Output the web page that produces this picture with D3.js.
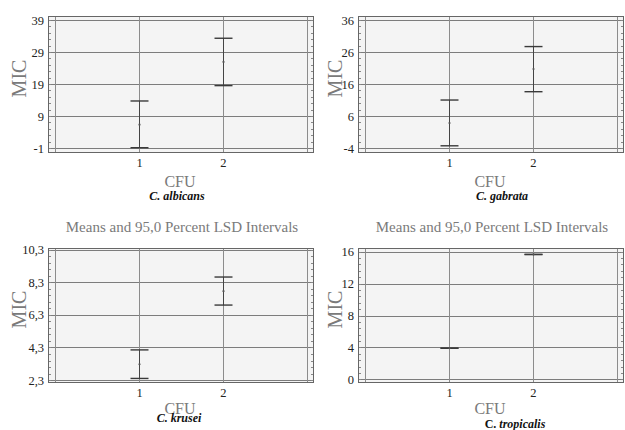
<!DOCTYPE html>
<html>
<head>
<meta charset="utf-8">
<script src="https://cdn.jsdelivr.net/npm/d3@7"></script>
<style>
  body { margin: 0; background: #fff; }
  svg { display: block; }
  svg text { font-family: "Liberation Serif", "Times New Roman", Times, "DejaVu Serif", serif !important; }
</style>
</head>
<body>
<svg id="chart" width="625" height="430"></svg>
<script>
// data
const species = ['C. albicans', 'C. gabrata', 'C. krusei', 'C. tropicalis']
const groups = [1, 2]
const means = [[6.3, 25.9], [3.8, 20.7], [3.27, 7.75], [3.9, 15.65]]
const lower = [[-0.9, 18.5], [-3.3, 13.6], [2.4, 6.9], [3.9, 15.65]]
const upper = [[13.7, 33.3], [11.0, 27.7], [4.15, 8.62], [3.9, 15.65]]
const yTicks = [
  [-1, 9, 19, 29, 39],
  [-4, 6, 16, 26, 36],
  [2.3, 4.3, 6.3, 8.3, 10.3],
  [0, 4, 8, 12, 16]
]
const yDomains = [[-2.55, 40.25], [-5.55, 37.25], [2.12, 10.4], [-0.46, 16.46]]
const title = 'Means and 95,0 Percent LSD Intervals'

const svg = d3.select('#chart')

// panel boxes
const cols = [[48, 314], [358, 624]]
const rows = [[16, 153], [248, 383]]
const micOffset = [29, 23]

const fmt = d => String(d).replace('.', ',')

species.forEach((name, i) => {
  const [x0, x1] = cols[i % 2]
  const [y0, y1] = rows[Math.floor(i / 2)]
  const cx = (x0 + x1) / 2

  const x = d3.scaleLinear().domain([-0.085, 3.085]).range([x0, x1])
  const y = d3.scaleLinear().domain(yDomains[i]).range([y1, y0])

  const g = svg.append('g')

  g.append('rect')
    .attr('x', x0).attr('y', y0)
    .attr('width', x1 - x0).attr('height', y1 - y0)
    .attr('fill', '#f4f4f4')

  // grid
  g.selectAll('.hgrid').data(yTicks[i]).enter().append('line')
    .attr('x1', x0).attr('x2', x1)
    .attr('y1', d => Math.round(y(d)) + 0.5).attr('y2', d => Math.round(y(d)) + 0.5)
    .attr('stroke', '#7c7c7c')
  g.selectAll('.vgrid').data([0, 1, 2, 3]).enter().append('line')
    .attr('y1', y0).attr('y2', y1)
    .attr('x1', d => Math.round(x(d)) + 0.5).attr('x2', d => Math.round(x(d)) + 0.5)
    .attr('stroke', '#8c8c8c')

  // minor ticks on left/right edges
  const step = (yTicks[i][1] - yTicks[i][0]) / 5
  const minor = d3.range(yTicks[i][0] - step, yDomains[i][1], step)
    .filter(v => v > yDomains[i][0] && v < yDomains[i][1])
  g.selectAll('.mtl').data(minor).enter().append('line')
    .attr('x1', x0).attr('x2', x0 + 3)
    .attr('y1', d => Math.round(y(d)) + 0.5).attr('y2', d => Math.round(y(d)) + 0.5)
    .attr('stroke', '#888')
  g.selectAll('.mtr').data(minor).enter().append('line')
    .attr('x1', x1 - 3).attr('x2', x1)
    .attr('y1', d => Math.round(y(d)) + 0.5).attr('y2', d => Math.round(y(d)) + 0.5)
    .attr('stroke', '#888')

  g.append('rect')
    .attr('x', x0 + 0.5).attr('y', y0 + 0.5)
    .attr('width', x1 - x0 - 1).attr('height', y1 - y0 - 1)
    .attr('fill', 'none').attr('stroke', '#666')

  // axes (labels only)
  const yAxis = g.append('g')
    .attr('transform', `translate(${x0},0)`)
    .call(d3.axisLeft(y).tickValues(yTicks[i]).tickFormat(fmt).tickSize(0).tickPadding(4))
  yAxis.select('.domain').remove()
  yAxis.selectAll('text').style('font-size', '12.5px').style('fill', '#222')

  const xAxis = g.append('g')
    .attr('transform', `translate(0,${y1})`)
    .call(d3.axisBottom(x).tickValues(groups).tickFormat(d3.format('d')).tickSize(0).tickPadding(5))
  xAxis.select('.domain').remove()
  xAxis.selectAll('text').style('font-size', '12.5px').style('fill', '#222')

  // error bars
  const cap = 9
  groups.forEach((grp, j) => {
    const px = Math.round(x(grp)) + 0.5
    g.append('line')
      .attr('x1', px).attr('x2', px)
      .attr('y1', y(lower[i][j])).attr('y2', y(upper[i][j]))
      .attr('stroke', '#444')
    ;[lower[i][j], upper[i][j]].forEach(v => {
      g.append('line')
        .attr('x1', px - cap).attr('x2', px + cap)
        .attr('y1', y(v)).attr('y2', y(v))
        .attr('stroke', '#3a3a3a').attr('stroke-width', 1.4)
    })
    g.append('circle')
      .attr('cx', px).attr('cy', y(means[i][j]))
      .attr('r', 1.1).attr('fill', '#555')
  })

  // axis titles
  g.append('text')
    .attr('transform', `translate(${x0 - micOffset[i % 2]},${(y0 + y1) / 2 - 6}) rotate(-90)`)
    .attr('text-anchor', 'middle')
    .attr('dominant-baseline', 'central')
    .attr('font-size', 20).attr('fill', '#7a7a7a')
    .text('MIC')

  const top = i < 2
  g.append('text')
    .attr('x', cx - 1).attr('y', top ? 187 : 414)
    .attr('text-anchor', 'middle')
    .attr('font-size', 16).attr('fill', '#7a7a7a')
    .text('CFU')

  const sp = g.append('text')
    .attr('x', cx + [-4, 11, -2, 24][i])
    .attr('y', [200, 200, 422, 428][i])
    .attr('text-anchor', 'middle')
    .attr('font-size', 12).attr('font-weight', 'bold').attr('fill', '#111')
  const parts = name.split(' ')
  sp.append('tspan').attr('font-style', i === 3 ? 'normal' : 'italic').text(parts[0] + ' ')
  sp.append('tspan').attr('font-style', 'italic').text(parts[1])

  if (!top) {
    g.append('text')
      .attr('x', cx + 1).attr('y', 232)
      .attr('text-anchor', 'middle')
      .attr('font-size', 15).attr('fill', '#7a7a7a')
      .text(title)
  }
})
</script>
</body>
</html>
